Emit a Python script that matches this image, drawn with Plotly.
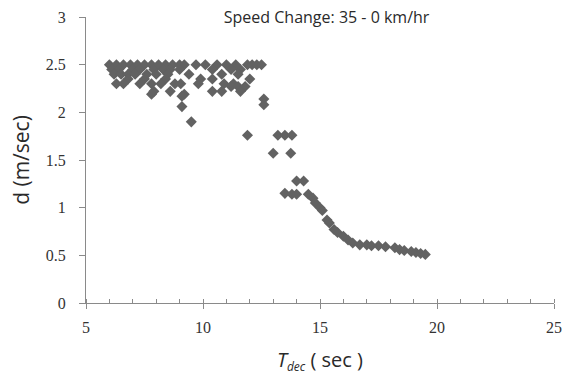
import plotly.graph_objects as go

# Data (T_dec in sec, d in m/sec)
row_250 = [6.0, 6.3, 6.6, 6.9, 7.2, 7.5, 7.8, 8.1, 8.4, 8.7, 9.0, 9.2, 9.7, 10.1, 10.6, 11.0, 11.4, 11.9, 12.1, 12.3, 12.5]
row_245 = [6.1, 6.4, 7.0, 7.3, 7.9, 8.3, 8.6, 9.0, 10.4, 11.2, 11.6]
row_240 = [6.2, 6.5, 6.8, 7.1, 7.6, 8.0, 8.5, 9.4, 10.8, 11.5]
row_235 = [6.8, 7.5, 8.4, 9.9, 10.4, 12.0]
row_230 = [6.3, 6.6, 7.3, 7.8, 8.2, 8.8, 9.05, 9.8, 10.9, 11.3]
row_227 = [11.2, 11.5, 11.8]
row_222 = [7.9, 8.6, 10.4, 10.8, 11.6]
row_219 = [7.8, 9.2]

tail_t = [9.1, 9.1, 9.5, 12.6, 12.6, 11.9, 13.2, 13.5, 13.8, 13.0, 13.75, 14.0, 14.3,
          13.5, 13.8, 14.0, 14.5, 14.7, 14.8, 15.0, 15.1, 15.3, 15.4, 15.6, 15.75, 16.0,
          16.2, 16.4, 16.7, 17.0, 17.2, 17.5, 17.8, 18.2, 18.4, 18.6, 18.9, 19.1, 19.3, 19.5]
tail_d = [2.17, 2.06, 1.90, 2.14, 2.08, 1.76, 1.76, 1.76, 1.76, 1.57, 1.57, 1.28, 1.28,
          1.15, 1.14, 1.14, 1.14, 1.10, 1.05, 1.00, 0.97, 0.87, 0.84, 0.77, 0.74, 0.70,
          0.66, 0.63, 0.61, 0.61, 0.60, 0.60, 0.59, 0.58, 0.56, 0.55, 0.54, 0.53, 0.52, 0.51]

rows = [(row_250, 2.50), (row_245, 2.45), (row_240, 2.40), (row_235, 2.35),
        (row_230, 2.30), (row_227, 2.27), (row_222, 2.22), (row_219, 2.19)]

t_vals, d_vals = [], []
for xs, yv in rows:
    t_vals += xs
    d_vals += [yv] * len(xs)
t_vals += tail_t
d_vals += tail_d

x_ticks = [5, 10, 15, 20, 25]
y_ticks = [0, 0.5, 1, 1.5, 2, 2.5, 3]
y_tick_text = ["0", "0.5", "1", "1.5", "2", "2.5", "3"]

fig = go.Figure()
fig.add_trace(go.Scatter(
    x=t_vals, y=d_vals, mode="markers",
    marker=dict(symbol="diamond", size=8.5, color="#626262", line=dict(width=0)),
    showlegend=False,
))

axis_color = "#8a8a8a"
tick_font = dict(family="Liberation Serif", size=16, color="#333333")

fig.update_layout(
    width=571, height=377,
    margin=dict(l=86, r=9, t=15, b=74),
    paper_bgcolor="white", plot_bgcolor="white",
    title=dict(text="Speed Change: 35 - 0 km/hr", x=0.572, xanchor="center",
               y=0.955, yanchor="middle",
               font=dict(family="Open Sans", size=16, color="#2a2a2a")),
    xaxis=dict(range=[5, 25], tickvals=x_ticks, showgrid=False, zeroline=False,
               showline=True, linecolor=axis_color, linewidth=1.3,
               ticks="outside", ticklen=5, tickcolor=axis_color, tickwidth=1.3,
               minor=dict(dtick=1, ticks="inside", ticklen=4, tickcolor=axis_color, tickwidth=1.3),
               tickfont=tick_font, ticklabelstandoff=5,
               title=dict(text="<i>T</i><sub><span style='font-size:12px'><i>dec</i></span></sub> ( sec )",
                          font=dict(family="Open Sans", size=20, color="#2a2a2a"),
                          standoff=17)),
    yaxis=dict(range=[0, 3], tickvals=y_ticks, ticktext=y_tick_text, showgrid=False,
               zeroline=False, showline=True, linecolor=axis_color, linewidth=1.3,
               ticks="outside", ticklen=6, tickcolor=axis_color, tickwidth=1.3,
               tickfont=tick_font, ticklabelstandoff=10,
               title=dict(text="d (m/sec)",
                          font=dict(family="Open Sans", size=21, color="#2a2a2a"),
                          standoff=10)),
)

fig.write_html("out.html")
